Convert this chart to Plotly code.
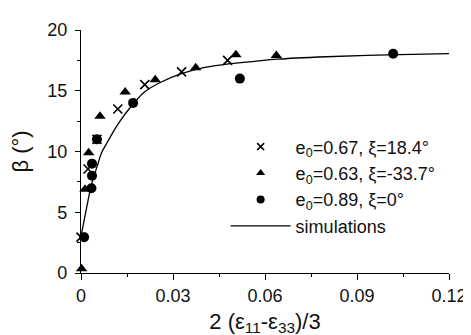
import plotly.graph_objects as go

# crosses: e0=0.67, xi=18.4
x_cross = [0.0, 0.0023, 0.0052, 0.0120, 0.0208, 0.0328, 0.0478]
y_cross = [2.95, 8.56, 11.0, 13.5, 15.5, 16.55, 17.5]
# triangles: e0=0.63, xi=-33.7
x_tri = [0.0002, 0.0013, 0.0025, 0.0062, 0.0144, 0.0242, 0.0374, 0.0505, 0.0637]
y_tri = [0.35, 6.9, 9.9, 12.9, 14.9, 15.9, 16.9, 17.97, 17.9]
# circles: e0=0.89, xi=0
x_circ = [0.0010, 0.0034, 0.0036, 0.0036, 0.0052, 0.0170, 0.0518, 0.1018]
y_circ = [2.95, 6.98, 8.0, 9.0, 11.0, 14.0, 16.0, 18.05]
# simulation curve
x_sim = [0.0, 0.0017, 0.0034, 0.0055, 0.0067, 0.008, 0.0107, 0.013, 0.016, 0.0207,
         0.026, 0.0328, 0.04, 0.0476, 0.056, 0.064, 0.08, 0.1, 0.12]
y_sim = [3.0, 5.2, 7.25, 8.96, 9.9, 10.5, 11.7, 12.6, 13.6, 14.9,
         15.7, 16.4, 16.9, 17.2, 17.4, 17.6, 17.8, 17.95, 18.05]

x_ticks = [0, 0.03, 0.06, 0.09, 0.12]
x_ticklabels = ["0", "0.03", "0.06", "0.09", "0.12"]
y_ticks = [0, 5, 10, 15, 20]

names = ["e<sub>0</sub>=0.67, ξ=18.4°", "e<sub>0</sub>=0.63, ξ=-33.7°",
         "e<sub>0</sub>=0.89, ξ=0°", "simulations"]

FONT = "Liberation Sans, Arial, sans-serif"

fig = go.Figure()
fig.add_trace(go.Scatter(x=x_cross, y=y_cross, mode="markers", showlegend=False,
                         marker=dict(symbol="x-thin", size=9, line=dict(width=1.6, color="black"), color="black"),
                         cliponaxis=False))
fig.add_trace(go.Scatter(x=x_tri, y=y_tri, mode="markers", showlegend=False,
                         marker=dict(symbol="triangle-up", size=10, color="black"),
                         cliponaxis=False))
fig.add_trace(go.Scatter(x=x_circ, y=y_circ, mode="markers", showlegend=False,
                         marker=dict(symbol="circle", size=10, color="black"),
                         cliponaxis=False))
fig.add_trace(go.Scatter(x=x_sim, y=y_sim, mode="lines", showlegend=False,
                         line=dict(color="black", width=1.3, shape="spline")))

# legend-only entries (smaller symbols as in the reference legend)
fig.add_trace(go.Scatter(x=[None], y=[None], mode="markers", name=names[0],
                         marker=dict(symbol="x-thin", size=7, line=dict(width=1.5, color="black"), color="black")))
fig.add_trace(go.Scatter(x=[None], y=[None], mode="markers", name=names[1],
                         marker=dict(symbol="triangle-up", size=8, color="black")))
fig.add_trace(go.Scatter(x=[None], y=[None], mode="markers", name=names[2],
                         marker=dict(symbol="circle", size=8, color="black")))
fig.add_trace(go.Scatter(x=[None], y=[None], mode="lines", name=names[3],
                         line=dict(color="black", width=1.3)))

fig.update_layout(
    width=471, height=335,
    margin=dict(l=73, r=18, t=12, b=70),
    plot_bgcolor="white", paper_bgcolor="white",
    font=dict(family=FONT, size=18, color="#111"),
    showlegend=True,
    legend=dict(x=0.393, y=0.595, xanchor="left", yanchor="top",
                bgcolor="rgba(0,0,0,0)", font=dict(size=18), itemwidth=60,
                tracegroupgap=0),
)
fig.update_xaxes(range=[0, 0.12], tickvals=x_ticks, ticktext=x_ticklabels,
                 showline=True, linecolor="black", linewidth=1.2, mirror=False,
                 ticks="outside", ticklen=6, tickwidth=1.2, tickcolor="black",
                 minor=dict(dtick=0.015, ticks="outside", ticklen=3, tickwidth=1.2, tickcolor="black"),
                 showgrid=False, zeroline=False,
                 title=dict(text="2 (ε<sub>11</sub>-ε<sub>33</sub>)/3", standoff=8))
fig.update_yaxes(range=[0, 20], tickvals=y_ticks,
                 showline=True, linecolor="black", linewidth=1.2, mirror=False,
                 ticks="outside", ticklen=5, tickwidth=1.2, tickcolor="black",
                 ticklabelstandoff=4,
                 minor=dict(dtick=2.5, ticks="outside", ticklen=3, tickwidth=1.2, tickcolor="black"),
                 showgrid=False, zeroline=False,
                 title=dict(text="β (°)", standoff=12))

fig.write_html("out.html")
